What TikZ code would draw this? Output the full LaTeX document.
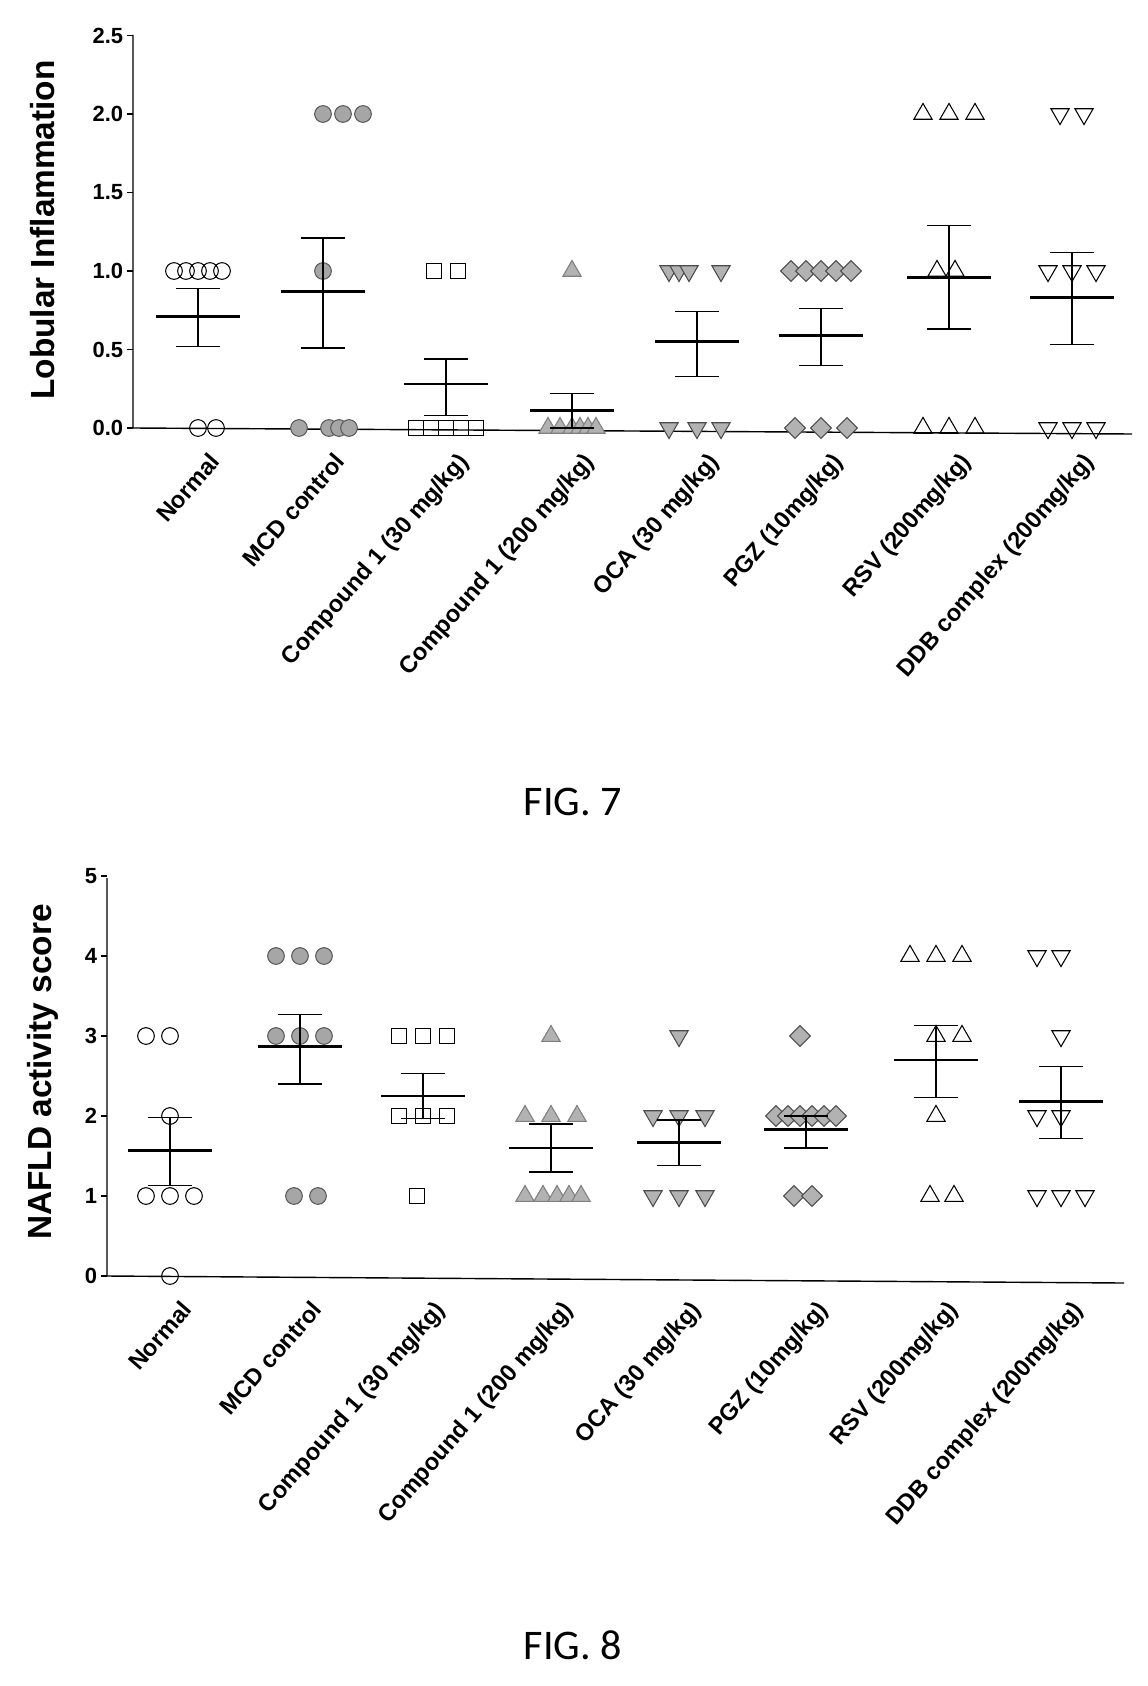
\documentclass[tikz,border=0pt]{standalone}
\usepackage{fontspec}
\setmainfont{Liberation Sans}
\newfontfamily\figfont{Carlito}
\usetikzlibrary{
  shapes,
  shapes.geometric,
  calc,
}

\tikzset{
  dot/.style={inner sep=0pt, minimum size=9.5pt, line width=0.6pt},
  ocirc/.style={dot, circle, draw},
  fcirc/.style={dot, circle, draw=gray!70!black, fill=gray!70},
  osq/.style={dot, rectangle, draw, minimum size=8.5pt},
  ftri/.style={dot, regular polygon, regular polygon sides=3, draw=gray, fill=gray!60, minimum size=12pt},
  fdtri/.style={dot, regular polygon, regular polygon sides=3, rotate=180, draw=gray!60!black, fill=gray!60, minimum size=12pt},
  fdia/.style={dot, diamond, draw=gray!60!black, fill=gray!60, minimum size=12pt},
  otri/.style={dot, regular polygon, regular polygon sides=3, draw, minimum size=12pt},
  odtri/.style={dot, regular polygon, regular polygon sides=3, rotate=180, draw, minimum size=12pt},
  bar/.style={line width=0.7pt},
  meanbar/.style={line width=1.6pt},
  ticklab/.style={font=\bfseries\fontsize{13.5}{16}\selectfont, anchor=north east, rotate=49, inner sep=1pt},
  axlab/.style={font=\bfseries\fontsize{19}{22}\selectfont, rotate=90},
  numlab/.style={font=\bfseries\fontsize{12.5}{15}\selectfont, anchor=east, inner sep=2pt},
  figlab/.style={font=\figfont\fontsize{24}{28}\selectfont},
}

% group: x, y0, scale, style, points, mean, lo, hi
\newcommand\grp[8]{%
  \foreach \dx/\v in {#5}{
      \node[#4] at ({#1+\dx},{#2-#3*\v}) {};
    }
  \draw[bar] (#1,{#2-#3*(#7)}) -- (#1,{#2-#3*(#8)});
  \draw[bar] ({#1-22},{#2-#3*(#7)}) -- ({#1+22},{#2-#3*(#7)});
  \draw[bar] ({#1-22},{#2-#3*(#8)}) -- ({#1+22},{#2-#3*(#8)});
  \draw[meanbar] ({#1-42},{#2-#3*(#6)}) -- ({#1+42},{#2-#3*(#6)});
}

\begin{document}
\begin{tikzpicture}[x=0.02cm, y=-0.02cm]
  \fill[white] (0,0) rectangle (1147,1686);

  % FIG. 7
  \draw[line width=0.8pt] (133,35) -- (133,428) -- (1132,434);
  \foreach \v in {0.0,0.5,1.0,1.5,2.0,2.5}{
      \draw[line width=0.8pt] (127,{428-157*\v}) -- (133,{428-157*\v});
      \node[numlab] at (127,{428-157*\v}) {\v};
    }
  \node[axlab] (ylab7) at (43,230) {Lobular Inflammation};

  \grp{198}{428}{157}{ocirc}{-24/1,-12/1,0/1,12/1,24/1,0/0,18/0}{0.71}{0.52}{0.89}
  \grp{323}{428}{157}{fcirc}{0/2,20/2,40/2,0/1,-24/0,6/0,16/0,26/0}{0.87}{0.51}{1.21}
  \grp{446}{428}{157}{osq}{-12/1,12/1,-30/0,-15/0,0/0,15/0,30/0}{0.28}{0.08}{0.44}
  \grp{572}{428}{157}{ftri}{0/1,-24/0,-12/0,0/0,8/0,16/0,24/0}{0.11}{0}{0.22}
  \grp{697}{428}{157}{fdtri}{-28/1,-18/1,-8/1,24/1,-28/0,0/0,24/0}{0.55}{0.33}{0.74}
  \grp{821}{428}{157}{fdia}{-30/1,-15/1,0/1,15/1,30/1,-26/0,0/0,26/0}{0.59}{0.40}{0.76}
  \grp{949}{428}{157}{otri}{-26/2,0/2,26/2,-12/1,6/1,-26/0,0/0,26/0}{0.96}{0.63}{1.29}
  \grp{1072}{428}{157}{odtri}{-12/2,12/2,-24/1,0/1,24/1,-24/0,0/0,24/0}{0.83}{0.53}{1.12}

  \foreach \x/\t in {198/{Normal},323/{MCD control},446/{Compound 1 (30 mg/kg)},572/{Compound 1 (200 mg/kg)},697/{OCA (30 mg/kg)},821/{PGZ (10mg/kg)},949/{RSV (200mg/kg)},1072/{DDB complex (200mg/kg)}}{
      \node[ticklab] at ({\x+10},448) {\t};
    }
  \node[figlab] (fig7) at (573,802) {FIG. 7};

  % FIG. 8
  \draw[line width=0.8pt] (107,878) -- (107,1276) -- (1124,1283);
  \foreach \v in {0,...,5}{
      \draw[line width=0.8pt] (101,{1276-80*\v}) -- (107,{1276-80*\v});
      \node[numlab] at (101,{1276-80*\v}) {\v};
    }
  \node[axlab] (ylab8) at (43,1072) {NAFLD activity score};

  \grp{170}{1276}{80}{ocirc}{-24/3,0/3,0/2,-24/1,0/1,24/1,0/0}{1.57}{1.13}{1.98}
  \grp{300}{1276}{80}{fcirc}{-24/4,0/4,24/4,-24/3,0/3,24/3,-6/1,18/1}{2.87}{2.40}{3.27}
  \grp{423}{1276}{80}{osq}{-24/3,0/3,24/3,-24/2,0/2,24/2,-6/1}{2.25}{1.97}{2.53}
  \grp{551}{1276}{80}{ftri}{0/3,-26/2,0/2,26/2,-26/1,-8/1,6/1,18/1,30/1}{1.60}{1.30}{1.90}
  \grp{679}{1276}{80}{fdtri}{0/3,-26/2,0/2,26/2,-26/1,0/1,26/1}{1.67}{1.38}{1.95}
  \grp{806}{1276}{80}{fdia}{-6/3,-30/2,-18/2,-6/2,6/2,18/2,30/2,-12/1,6/1}{1.83}{1.60}{2.00}
  \grp{936}{1276}{80}{otri}{-26/4,0/4,26/4,0/3,26/3,0/2,-6/1,18/1}{2.70}{2.23}{3.13}
  \grp{1061}{1276}{80}{odtri}{-24/4,0/4,0/3,-24/2,0/2,-24/1,0/1,24/1}{2.18}{1.72}{2.62}

  \foreach \x/\t in {170/{Normal},300/{MCD control},423/{Compound 1 (30 mg/kg)},551/{Compound 1 (200 mg/kg)},679/{OCA (30 mg/kg)},806/{PGZ (10mg/kg)},936/{RSV (200mg/kg)},1061/{DDB complex (200mg/kg)}}{
      \node[ticklab] at ({\x+10},1296) {\t};
    }
  \node[figlab] (fig8) at (573,1645) {FIG. 8};
\end{tikzpicture}
\end{document}
